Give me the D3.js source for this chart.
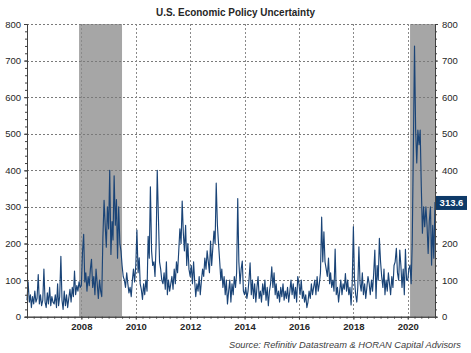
<!DOCTYPE html>
<html>
<head>
<meta charset="utf-8">
<script src="https://cdn.jsdelivr.net/npm/d3@7/dist/d3.min.js"></script>
<style>
	body { margin: 0; background: #fff; }
	svg { display: block; font-family: "Liberation Sans", Arial, sans-serif; }
</style>
</head>
<body>
<script>
// semi-monthly readings (1st and 16th of each month)
var v2006 = [45,95,40,60,25,55,35,70,40,50,115,35,60,30,45,130,40,25,65,35,80,30,55,40];
var v2007 = [35,60,25,90,30,55,165,45,20,70,30,60,25,50,75,40,80,55,125,60,85,70,95,80];
var v2008 = [85,175,225,95,120,70,110,85,130,157,80,110,60,130,90,50,100,70,55,215,318,250,190,300];
var v2009 = [240,400,170,260,210,385,250,320,160,300,200,180,140,110,100,80,120,90,65,80,55,100,130,95];
var v2010 = [140,237,120,161,90,75,47,90,60,100,70,220,160,355,180,140,150,110,200,400,270,150,130,100];
var v2011 = [90,120,75,150,60,100,70,90,110,75,130,90,150,120,180,240,200,316,230,180,250,140,200,130];
var v2012 = [110,140,90,150,100,55,90,70,110,60,100,130,110,160,130,180,150,120,207,140,190,234,200,365];
var v2013 = [250,200,150,100,130,80,110,60,100,35,70,100,40,90,60,110,80,120,323,150,90,130,152,70];
var v2014 = [60,80,50,70,100,147,60,100,50,90,40,80,110,50,70,40,90,60,100,45,80,30,70,90];
var v2015 = [136,80,120,60,90,50,70,40,80,55,90,45,70,50,80,40,70,100,60,90,50,80,40,110];
var v2016 = [90,60,100,50,70,40,60,25,40,70,50,90,60,80,100,60,110,70,90,120,272,150,232,150];
var v2017 = [130,110,160,90,120,80,100,70,185,60,80,40,70,100,60,90,75,118,70,100,60,80,32,90];
var v2018 = [246,100,60,40,80,191,90,70,120,60,90,50,80,110,90,60,100,70,120,182,50,140,100,214];
var v2019 = [150,110,80,130,60,100,70,120,90,60,110,80,140,150,187,120,100,182,140,80,130,60,184,100];
var v2020 = [100,130,141,90,200,450,740,510,420,510,470,510,355,228,300,246,300,250,173,260,300,141,250,160];
var lastValue = 313.6;

var seriesYears = [2006,2007,2008,2009,2010,2011,2012,2013,2014,2015,2016,2017,2018,2019,2020];
var seriesValues = [v2006,v2007,v2008,v2009,v2010,v2011,v2012,v2013,v2014,v2015,v2016,v2017,v2018,v2019,v2020];

var recessionStart = ["2007-12-01", "2020-02-01"];
var recessionEnd = ["2009-06-30", "2021-01-01"];

var yTicks = [0,100,200,300,400,500,600,700,800];
var yTicksRight = [0,100,200,400,500,600,700,800]; // 300 sits under the value box
var xTickYears = [2008,2010,2012,2014,2016,2018,2020];

(function () {
	var width = 471, height = 353;
	var pLeft = 27, pRight = 435, pTop = 24, pBottom = 316.7;

	var data = [];
	seriesYears.forEach(function (yr, i) {
		seriesValues[i].forEach(function (v, k) {
			data.push({ d: new Date(yr, Math.floor(k / 2), k % 2 ? 16 : 1), v: v });
		});
	});
	data.push({ d: new Date(2021, 0, 1), v: lastValue });

	var x = d3.scaleTime().domain([new Date(2006, 0, 1), new Date(2021, 0, 1)]).range([pLeft, pRight]);
	var y = d3.scaleLinear().domain([0, 800]).range([pBottom, pTop]);

	var svg = d3.select("body").append("svg").attr("width", width).attr("height", height);

	// title
	svg.append("text").attr("x", 156).attr("y", 16)
		.attr("textLength", 159).attr("lengthAdjust", "spacingAndGlyphs")
		.attr("font-size", 11.5).attr("font-weight", "bold").attr("fill", "#262626")
		.text("U.S. Economic Policy Uncertainty");

	// recession shading
	svg.selectAll(".rec").data(recessionStart).enter().append("rect").attr("class", "rec")
		.attr("x", function (d) { return x(new Date(d)); })
		.attr("y", pTop)
		.attr("width", function (d, i) { return x(new Date(recessionEnd[i])) - x(new Date(d)); })
		.attr("height", pBottom - pTop)
		.attr("fill", "#a6a6a6");

	// grid
	svg.selectAll(".hgrid").data(yTicks.slice(1)).enter().append("line").attr("class", "hgrid")
		.attr("x1", pLeft).attr("x2", pRight)
		.attr("y1", function (d) { return Math.round(y(d)) + 0.5; })
		.attr("y2", function (d) { return Math.round(y(d)) + 0.5; })
		.attr("stroke", "#7a7a7a").attr("stroke-width", 1).attr("stroke-dasharray", "2,2");
	svg.selectAll(".vgrid").data(xTickYears).enter().append("line").attr("class", "vgrid")
		.attr("x1", function (d) { return Math.round(x(new Date(d, 0, 1))) + 0.5; })
		.attr("x2", function (d) { return Math.round(x(new Date(d, 0, 1))) + 0.5; })
		.attr("y1", pTop).attr("y2", pBottom)
		.attr("stroke", "#8a8a8a").attr("stroke-width", 1).attr("stroke-dasharray", "2,2");

	// series
	var line = d3.line().x(function (d) { return x(d.d); }).y(function (d) { return y(d.v); });
	svg.append("path").datum(data)
		.attr("d", line)
		.attr("fill", "none").attr("stroke", "#1a4477").attr("stroke-width", 1.15)
		.attr("stroke-linejoin", "round");

	// axes
	function styleAxis(g) {
		g.selectAll("path,line").attr("stroke", "#404040");
		g.selectAll("text").attr("fill", "#262626").attr("font-size", 9.5);
	}

	svg.append("g").attr("transform", "translate(" + pLeft + ",0)")
		.call(d3.axisLeft(y).tickValues(d3.range(0, 801, 20)).tickSize(2).tickFormat(""))
		.call(styleAxis);
	svg.append("g").attr("transform", "translate(" + pLeft + ",0)")
		.call(d3.axisLeft(y).tickValues(yTicks).tickSize(3).tickPadding(3).tickSizeOuter(0))
		.call(styleAxis);

	svg.append("g").attr("transform", "translate(" + pRight + ",0)")
		.call(d3.axisRight(y).tickValues(d3.range(0, 801, 20)).tickSize(2).tickFormat(""))
		.call(styleAxis);
	svg.append("g").attr("transform", "translate(" + pRight + ",0)")
		.call(d3.axisRight(y).tickValues(yTicksRight).tickSize(3).tickPadding(4).tickSizeOuter(0))
		.call(styleAxis);

	svg.append("g").attr("transform", "translate(0," + pBottom + ")")
		.call(d3.axisBottom(x).ticks(d3.timeMonth.every(3)).tickSize(2).tickFormat("").tickSizeOuter(0))
		.call(styleAxis);
	svg.append("g").attr("transform", "translate(0," + pBottom + ")")
		.call(d3.axisBottom(x).tickValues(xTickYears.map(function (d) { return new Date(d, 0, 1); }))
			.tickFormat(d3.timeFormat("%Y")).tickSize(3).tickPadding(4).tickSizeOuter(0))
		.call(styleAxis)
		.selectAll("text").attr("font-weight", "bold");

	// last value label
	var ly = y(lastValue);
	svg.append("rect").attr("x", pRight + 1).attr("y", ly - 6).attr("width", 31).attr("height", 14)
		.attr("fill", "#0e3a68");
	svg.append("text").attr("x", pRight + 16.5).attr("y", ly + 4.5)
		.attr("text-anchor", "middle").attr("font-size", 9.5).attr("font-weight", "bold")
		.attr("fill", "#fff").text(lastValue.toFixed(1));

	// source
	svg.append("text").attr("x", 229).attr("y", 348)
		.attr("textLength", 232).attr("lengthAdjust", "spacingAndGlyphs")
		.attr("font-size", 9.5).attr("font-style", "italic").attr("fill", "#404040")
		.text("Source: Refinitiv Datastream & HORAN Capital Advisors");
})();
</script>
</body>
</html>
